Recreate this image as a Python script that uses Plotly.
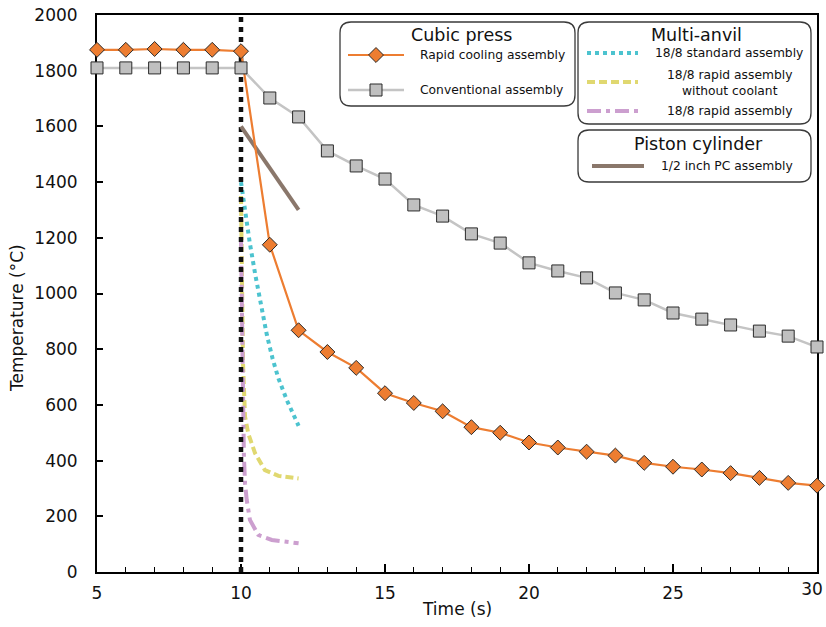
import plotly.graph_objects as go

# ---------------- data ----------------
time_cubic = list(range(5, 31))
rapid_cooling = [1875, 1875, 1878, 1875, 1875, 1870, 1175, 868, 790, 733, 642, 607, 577,
                 520, 500, 465, 447, 432, 418, 392, 378, 368, 355, 338, 320, 310]
conventional = [1810, 1810, 1810, 1810, 1810, 1810, 1702, 1634, 1512, 1458, 1411, 1318, 1278,
                1214, 1181, 1110, 1081, 1056, 1002, 977, 930, 908, 887, 865, 847, 808]

ma_std_t = [10, 10.1, 10.3, 10.5, 10.7, 10.9, 11.1, 11.3, 11.6, 12]
ma_std_T = [1400, 1320, 1185, 1065, 950, 850, 765, 695, 615, 525]

ma_nocool_t = [10, 10.03, 10.07, 10.14, 10.25, 10.49, 10.83, 11.3, 12]
ma_nocool_T = [1350, 1000, 750, 558, 498, 426, 366, 345, 336]

ma_rapid_t = [10, 10.04, 10.1, 10.14, 10.2, 10.31, 10.6, 11.07, 12]
ma_rapid_T = [1200, 800, 420, 318, 258, 187, 133, 115, 103]

pc_t = [10, 12]
pc_T = [1600, 1300]

quench_t = [10, 10]
quench_T = [0, 2000]

x_ticks = [5, 10, 15, 20, 25, 30]
x_tick_labels = ["5", "10", "15", "20", "25", "30"]
y_ticks = list(range(0, 2001, 200))

# ---------------- styles ----------------
ORANGE = "#ED7D31"
GREY_LINE = "#C4C4C4"
GREY_FILL = "#C0C0C0"
CYAN = "#4CC3CF"
YELLOW = "#E0D870"
PURPLE = "#CC9FCF"
BROWN = "#8A776B"
FONT = "DejaVu Sans"

W, H = 826, 627
PX_L, PX_R, PX_T, PX_B = 97, 817, 15, 572   # plot area in page pixels

orange_marker = dict(symbol="diamond", size=11.5, color=ORANGE, line=dict(color="#2b2b2b", width=1))
grey_marker = dict(symbol="square", size=12, color=GREY_FILL, line=dict(color="#2b2b2b", width=1))
cyan_line = dict(color=CYAN, width=4, dash="dot")
yellow_line = dict(color=YELLOW, width=4, dash="8px,4px")
purple_line = dict(color=PURPLE, width=4, dash="14px,5px,4px,5px")
brown_line = dict(color=BROWN, width=4)

fig = go.Figure()

fig.add_trace(go.Scatter(x=ma_std_t, y=ma_std_T, mode="lines", line=cyan_line, showlegend=False))
fig.add_trace(go.Scatter(x=ma_nocool_t, y=ma_nocool_T, mode="lines", line=yellow_line, showlegend=False))
fig.add_trace(go.Scatter(x=ma_rapid_t, y=ma_rapid_T, mode="lines", line=purple_line, showlegend=False))
fig.add_trace(go.Scatter(x=quench_t, y=quench_T, mode="lines",
                         line=dict(color="#111111", width=4.5, dash="5px,5px"), showlegend=False))
fig.add_trace(go.Scatter(x=pc_t, y=pc_T, mode="lines", line=brown_line, showlegend=False))
fig.add_trace(go.Scatter(x=time_cubic, y=rapid_cooling, mode="lines+markers",
                         line=dict(color=ORANGE, width=2.2), marker=orange_marker,
                         cliponaxis=False, showlegend=False))
fig.add_trace(go.Scatter(x=time_cubic, y=conventional, mode="lines+markers",
                         line=dict(color=GREY_LINE, width=2.5), marker=grey_marker,
                         cliponaxis=False, showlegend=False))
# empty trace so the helper axis carrying the last x tick label is drawn
fig.add_trace(go.Scatter(x=[], y=[], xaxis="x3", yaxis="y", showlegend=False))

# ---------------- custom legend (pixel-space overlay axes) ----------------
def rbox(x0, y0, x1, y1, r=11):
    return (f"M{x0+r},{y0} L{x1-r},{y0} Q{x1},{y0} {x1},{y0+r} L{x1},{y1-r} "
            f"Q{x1},{y1} {x1-r},{y1} L{x0+r},{y1} Q{x0},{y1} {x0},{y1-r} "
            f"L{x0},{y0+r} Q{x0},{y0} {x0+r},{y0} Z")

boxes = [(340, 22, 575, 106), (578, 22, 811, 124), (578, 130, 811, 182)]
for b in boxes:
    fig.add_shape(type="path", path=rbox(*b), xref="x2", yref="y2",
                  line=dict(color="#3a3a3a", width=1.3), fillcolor="white", layer="below")

def sample(x0, x1, y, line, marker=None):
    fig.add_trace(go.Scatter(x=[x0, x1], y=[y, y], mode="lines", line=line,
                             xaxis="x2", yaxis="y2", cliponaxis=False,
                             showlegend=False, hoverinfo="skip"))
    if marker is not None:
        fig.add_trace(go.Scatter(x=[(x0 + x1) / 2], y=[y], mode="markers", marker=marker,
                                 xaxis="x2", yaxis="y2", cliponaxis=False,
                                 showlegend=False, hoverinfo="skip"))

def label(x, y, text, size, anchor="left"):
    fig.add_annotation(x=x, y=y, xref="x2", yref="y2", text=text, showarrow=False,
                       xanchor=anchor, yanchor="middle", align="center",
                       font=dict(family=FONT, size=size, color="#111111"))

sample(348, 404, 55, dict(color=ORANGE, width=2.2), orange_marker)
sample(348, 404, 90, dict(color=GREY_LINE, width=2.5), grey_marker)
sample(587, 638, 53, cyan_line)
sample(587, 638, 82, yellow_line)
sample(587, 638, 111, purple_line)
sample(592, 644, 166, brown_line)

label(461, 35, "Cubic press", 17.5, "center")
label(418, 55, "Rapid cooling assembly", 12.3)
label(418, 90, "Conventional assembly", 12.3)
label(696, 35, "Multi-anvil", 17.5, "center")
label(729, 53, "18/8 standard assembly", 12.3, "center")
label(729, 83, "18/8 rapid assembly<br>without coolant", 12.3, "center")
label(729, 111, "18/8 rapid assembly", 12.3, "center")
label(698, 144, "Piston cylinder", 17.5, "center")
label(727, 166, "1/2 inch PC assembly", 12.3, "center")

# axis titles (paper coordinates, outside the plot area)
def to_paper(px, py):
    return (px - PX_L) / (PX_R - PX_L), (PX_B - py) / (PX_B - PX_T)

tx, ty = to_paper(457, 609)
fig.add_annotation(x=tx, y=ty, xref="paper", yref="paper", text="Time (s)", showarrow=False,
                   xanchor="center", yanchor="middle",
                   font=dict(family=FONT, size=17, color="#111111"))
tx, ty = to_paper(17, 318)
fig.add_annotation(x=tx, y=ty, xref="paper", yref="paper", text="Temperature (°C)",
                   showarrow=False, textangle=-90, xanchor="center", yanchor="middle",
                   font=dict(family=FONT, size=17, color="#111111"))

tick_font = dict(family=FONT, size=17, color="#111111")

fig.update_layout(
    width=W, height=H,
    margin=dict(l=PX_L, r=W - PX_R, t=PX_T, b=H - PX_B, autoexpand=False),
    paper_bgcolor="white", plot_bgcolor="white",
    font=dict(family=FONT, size=16, color="#111111"),
    xaxis=dict(range=[5, 30], tickvals=x_ticks, ticktext=x_tick_labels[:-1] + [""],
               ticks="inside", ticklen=8, tickwidth=1.5,
               tickcolor="black", showgrid=False, zeroline=False, showline=True,
               linecolor="black", linewidth=2, mirror=True, layer="below traces",
               ticklabelstandoff=5, ticklabeloverflow="allow", tickfont=tick_font,
               minor=dict(dtick=1, ticks="inside", ticklen=5, tickwidth=1.2, tickcolor="black",
                          showgrid=False)),
    # helper axis: last x tick label, nudged left so it stays inside the page
    xaxis3=dict(overlaying="x", anchor="y", range=[5, 30], tickvals=x_ticks[-1:],
                ticktext=x_tick_labels[-1:], ticks="", showline=False, showgrid=False,
                zeroline=False, ticklabelstandoff=5, ticklabelshift=-5,
                ticklabeloverflow="allow", tickfont=tick_font, fixedrange=True),
    yaxis=dict(range=[0, 2000], tickvals=y_ticks, ticks="inside", ticklen=6, tickwidth=1.5,
               tickcolor="black", showgrid=False, zeroline=False, showline=True,
               linecolor="black", linewidth=2, mirror=True, layer="below traces",
               ticklabelstandoff=14, ticklabeloverflow="allow", tickfont=tick_font),
    xaxis2=dict(overlaying="x", range=[PX_L, PX_R], visible=False, fixedrange=True),
    yaxis2=dict(overlaying="y", range=[PX_B, PX_T], visible=False, fixedrange=True),
)

# remove the browser's default 8px body margin so the figure fills the window exactly
fig.write_html("out.html", config={"displayModeBar": False},
               post_script="document.body.style.margin='0';document.body.style.overflow='hidden';")
